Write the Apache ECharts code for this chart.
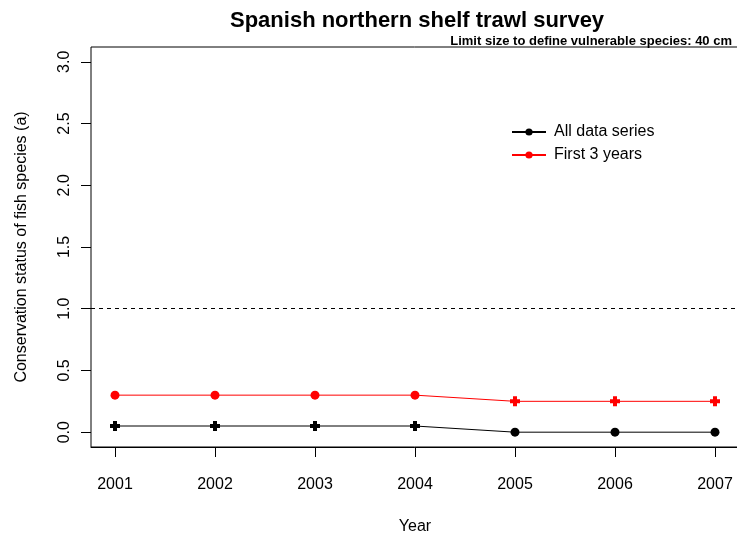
<!DOCTYPE html>
<html>
<head>
<meta charset="utf-8">
<script src="https://cdn.jsdelivr.net/npm/echarts@6/dist/echarts.min.js"></script>
<style>
  html, body { margin: 0; padding: 0; background: #fff; }
  #chart { width: 737px; height: 538px; }
</style>
</head>
<body>
<div id="chart"></div>
<script>
// Survey years and conservation status values
const years = [2001, 2002, 2003, 2004, 2005, 2006, 2007];
const allDataSeries = [0.05, 0.05, 0.05, 0.05, 0.0, 0.0, 0.0];
const firstThreeYears = [0.30, 0.30, 0.30, 0.30, 0.25, 0.25, 0.25];
const yTicks = [0, 0.5, 1.0, 1.5, 2.0, 2.5, 3.0];
const referenceLevel = 1.0;

const FONT = '"Liberation Sans", Arial, sans-serif';
const plusShape = 'path://M3,0H7V3H10V7H7V10H3V7H0V3H3Z';

const chart = echarts.init(document.getElementById('chart'), null, { renderer: 'canvas' });

const pairs = arr => arr.map((v, i) => [years[i], v]);

chart.setOption({
  animation: false,
  backgroundColor: '#ffffff',
  textStyle: { fontFamily: FONT },
  title: [
    {
      text: 'Spanish northern shelf trawl survey',
      left: 225, top: 5,
      textStyle: { fontFamily: FONT, fontSize: 22, fontWeight: 'bold', color: '#000' }
    },
    {
      text: 'Limit size to define vulnerable species: 40 cm',
      right: 0, top: 30,
      textStyle: { fontFamily: FONT, fontSize: 13, fontWeight: 'bold', color: '#000' }
    }
  ],
  legend: {
    orient: 'vertical',
    left: 506, top: 119,
    itemWidth: 34, itemHeight: 9, itemGap: 7,
    textStyle: { fontFamily: FONT, fontSize: 16, color: '#000', padding: [0, 0, 0, 3] },
    data: ['All data series', 'First 3 years']
  },
  grid: {
    left: 91, top: 47, right: -2, bottom: 91,
    outerBoundsMode: 'none',
    containLabel: false,
    show: true, borderColor: '#000', borderWidth: 1, backgroundColor: 'transparent'
  },
  xAxis: {
    type: 'value',
    position: 'bottom',
    min: years[0] - 0.24, max: years[years.length - 1] + 0.24,
    name: 'Year', nameLocation: 'middle', nameGap: 72,
    nameTextStyle: { fontFamily: FONT, fontSize: 16, color: '#000' },
    axisLine: { show: true, onZero: false, lineStyle: { color: '#000', width: 1 } },
    splitLine: { show: false },
    axisTick: { show: true, inside: false, length: 10, lineStyle: { color: '#000', width: 1 }, customValues: years },
    axisLabel: {
      customValues: years, margin: 30, fontFamily: FONT, fontSize: 16, color: '#000',
      formatter: v => String(v)
    }
  },
  yAxis: {
    type: 'value',
    min: -0.12, max: 3.12,
    name: 'Conservation status of fish species (a)', nameLocation: 'middle', nameGap: 61,
    nameTextStyle: { fontFamily: FONT, fontSize: 16, color: '#000' },
    axisLine: { show: false, onZero: false },
    splitLine: { show: false },
    axisTick: { show: true, inside: false, length: 10, lineStyle: { color: '#000' }, customValues: yTicks },
    axisLabel: {
      customValues: yTicks, rotate: 90, margin: 18, fontFamily: FONT, fontSize: 16, color: '#000',
      formatter: v => v.toFixed(1)
    }
  },
  series: [
    {
      name: 'All data series',
      type: 'line',
      data: pairs(allDataSeries),
      color: '#000',
      lineStyle: { color: '#000', width: 1 },
      itemStyle: { color: '#000' },
      symbol: (v, p) => (p.dataIndex < 4 ? plusShape : 'circle'),
      symbolSize: (v, p) => (p.dataIndex < 4 ? 10 : 9),
      z: 3,
      markLine: {
        silent: true, symbol: 'none', label: { show: false },
        lineStyle: { color: '#000', type: [4, 4], width: 1 },
        data: [{ yAxis: referenceLevel }]
      }
    },
    {
      name: 'First 3 years',
      type: 'line',
      data: pairs(firstThreeYears),
      color: '#ff0000',
      lineStyle: { color: '#ff0000', width: 1 },
      itemStyle: { color: '#ff0000' },
      symbol: (v, p) => (p.dataIndex < 4 ? 'circle' : plusShape),
      symbolSize: (v, p) => (p.dataIndex < 4 ? 9 : 10),
      z: 3
    }
  ]
});
</script>
</body>
</html>
